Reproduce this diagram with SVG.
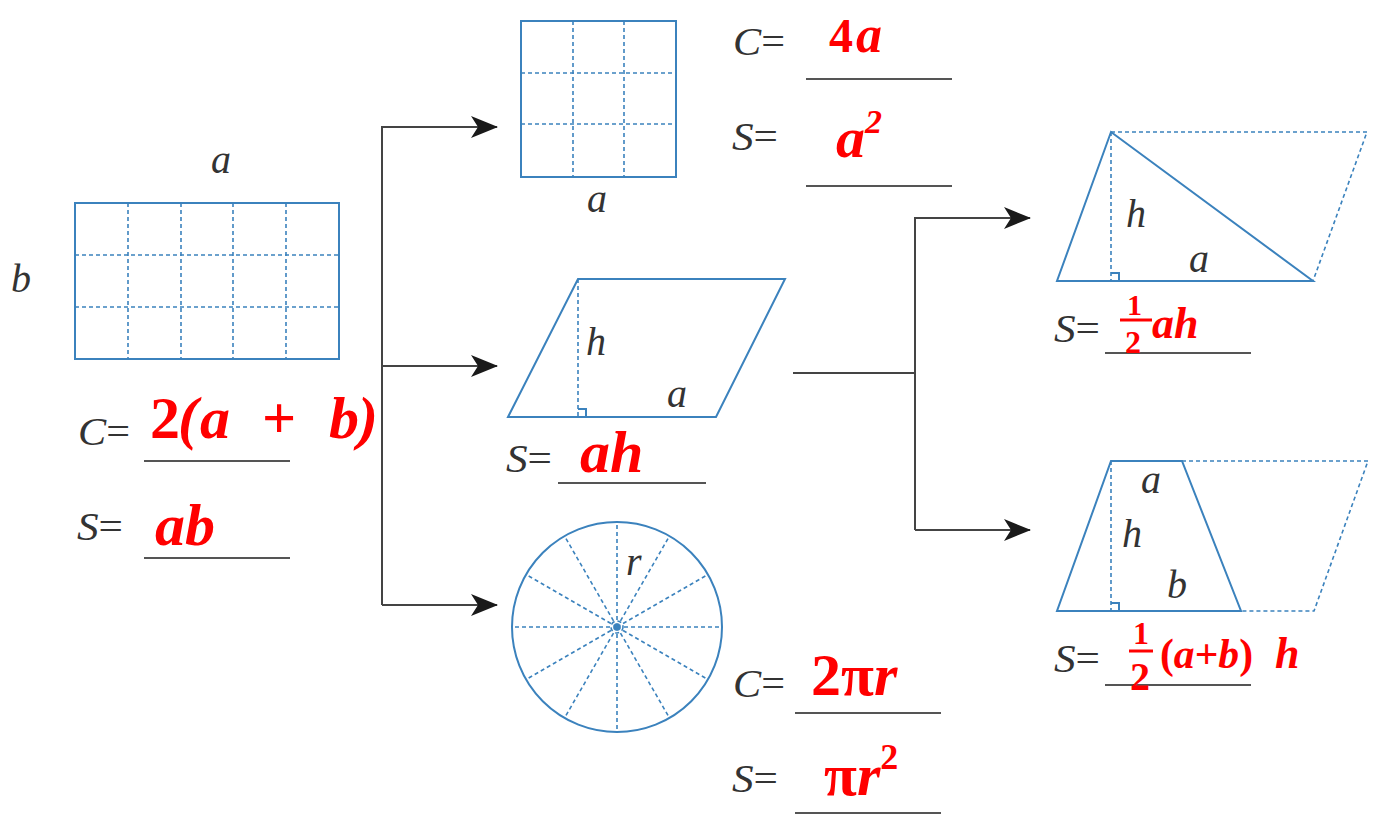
<svg xmlns="http://www.w3.org/2000/svg" width="1374" height="823" viewBox="0 0 1374 823">
<style>
.sh{fill:none;stroke:#3b82bd;stroke-width:2}
.dl{fill:none;stroke:#3b82bd;stroke-width:1.6;stroke-dasharray:4 3}
.lb{font-family:'Liberation Serif','Times New Roman','DejaVu Serif',serif;font-style:italic;font-size:40px;fill:#333}
.eq{font-style:normal}
.ul{stroke:#555;stroke-width:2}
.rd{font-family:'Liberation Serif','Times New Roman','DejaVu Serif',serif;font-weight:bold;fill:#ff0000}
.it{font-style:italic}
.cn{fill:none;stroke:#444;stroke-width:2}
</style>
<defs>
<marker id="arr" markerUnits="userSpaceOnUse" markerWidth="28" markerHeight="22" refX="26" refY="11" orient="auto">
<path d="M0,0 L27,11 L0,22 L7,11 z" fill="#1a1a1a"/>
</marker>
</defs>

<g id="connectors">
<path class="cn" d="M382,605 V127 H497" marker-end="url(#arr)"/>
<path class="cn" d="M382,366 H497" marker-end="url(#arr)"/>
<path class="cn" d="M382,605 H497" marker-end="url(#arr)"/>
<path class="cn" d="M793,373 H915"/>
<path class="cn" d="M915,530 V218 H1030" marker-end="url(#arr)"/>
<path class="cn" d="M915,530 H1030" marker-end="url(#arr)"/>
</g>

<g id="rectangle">
<rect class="sh" x="75" y="203" width="264" height="156"/>
<path class="dl" d="M128,203V359M181,203V359M233,203V359M286,203V359M75,255H339M75,307H339"/>
<text class="lb" x="211" y="173">a</text>
<text class="lb" x="11" y="292">b</text>
<text class="lb" x="78" y="445" textLength="52" lengthAdjust="spacingAndGlyphs">C<tspan class="eq">=</tspan></text>
<text class="lb" x="77" y="540" textLength="46" lengthAdjust="spacingAndGlyphs">S<tspan class="eq">=</tspan></text>
<line class="ul" x1="144" y1="461" x2="290" y2="461"/>
<line class="ul" x1="144" y1="558" x2="290" y2="558"/>
<text class="rd" font-size="60" y="438"><tspan x="150">2</tspan><tspan class="it" x="178">(</tspan><tspan class="it" x="200">a</tspan><tspan x="262">+</tspan><tspan class="it" x="329">b</tspan><tspan class="it" x="358">)</tspan></text>
<text class="rd it" font-size="60" x="155" y="545">ab</text>
</g>

<g id="square">
<rect class="sh" x="521" y="21" width="155" height="156"/>
<path class="dl" d="M573,21V177M624,21V177M521,73H676M521,124H676"/>
<text class="lb" x="587" y="212">a</text>
<text class="lb" x="733" y="55" textLength="52" lengthAdjust="spacingAndGlyphs">C<tspan class="eq">=</tspan></text>
<text class="lb" x="732" y="150" textLength="46" lengthAdjust="spacingAndGlyphs">S<tspan class="eq">=</tspan></text>
<line class="ul" x1="806" y1="79" x2="952" y2="79"/>
<line class="ul" x1="806" y1="186" x2="952" y2="186"/>
<text class="rd" font-size="48" y="52"><tspan x="829">4</tspan><tspan class="it" x="856" font-size="52">a</tspan></text>
<text class="rd it" font-size="58" x="836" y="157">a<tspan font-size="34" dy="-24">2</tspan></text>
</g>

<g id="parallelogram">
<path class="sh" d="M578,279 H785 L716,417 H508 Z"/>
<path class="dl" d="M578,279 V417"/>
<path class="sh" stroke-width="1.5" d="M578,409 H586 V417"/>
<text class="lb" x="586" y="355">h</text>
<text class="lb" x="667" y="407">a</text>
<text class="lb" x="506" y="472" textLength="46" lengthAdjust="spacingAndGlyphs">S<tspan class="eq">=</tspan></text>
<line class="ul" x1="558" y1="483" x2="706" y2="483"/>
<text class="rd it" font-size="60" x="580" y="472">ah</text>
</g>

<g id="circle">
<circle class="sh" cx="617" cy="627" r="105"/>
<g class="dl">
<path d="M617,627 L722,627 M617,627 L708,574.5 M617,627 L669.5,536 M617,627 L617,522 M617,627 L564.5,536 M617,627 L526,574.5 M617,627 L512,627 M617,627 L526,679.5 M617,627 L564.5,718 M617,627 L617,732 M617,627 L669.5,718 M617,627 L708,679.5"/>
<circle cx="617" cy="627" r="6"/>
</g>
<circle cx="617" cy="627" r="1.8" fill="#3b82bd"/>
<text class="lb" x="626" y="575">r</text>
<text class="lb" x="733" y="697" textLength="52" lengthAdjust="spacingAndGlyphs">C<tspan class="eq">=</tspan></text>
<text class="lb" x="732" y="792" textLength="46" lengthAdjust="spacingAndGlyphs">S<tspan class="eq">=</tspan></text>
<line class="ul" x1="795" y1="713" x2="941" y2="713"/>
<line class="ul" x1="795" y1="813" x2="941" y2="813"/>
<text class="rd" font-size="60" y="695"><tspan x="811">2π</tspan><tspan class="it">r</tspan></text>
<text class="rd" font-size="60" y="795"><tspan x="824">π</tspan><tspan class="it">r</tspan><tspan font-size="36" dy="-26">2</tspan></text>
</g>

<g id="triangle">
<path class="dl" d="M1111,132 H1367 L1313,281"/>
<path class="sh" d="M1111,132 L1313,281 H1057 Z"/>
<path class="dl" d="M1111,132 V281"/>
<path class="sh" stroke-width="1.5" d="M1111,273 H1119 V281"/>
<text class="lb" x="1126" y="227">h</text>
<text class="lb" x="1189" y="272">a</text>
<text class="lb" x="1054" y="342" textLength="46" lengthAdjust="spacingAndGlyphs">S<tspan class="eq">=</tspan></text>
<line class="ul" x1="1105" y1="353" x2="1251" y2="353"/>
<text class="rd" font-size="30" x="1127" y="315">1</text>
<line x1="1120" y1="320" x2="1152" y2="320" stroke="#ff0000" stroke-width="3"/>
<text class="rd" font-size="32" x="1125" y="353">2</text>
<text class="rd it" font-size="44" x="1152" y="338">ah</text>
</g>

<g id="trapezoid">
<path class="dl" d="M1182,461 H1368 L1314,611 H1241"/>
<path class="sh" d="M1111,461 H1182 L1241,611 H1057 Z"/>
<path class="dl" d="M1111,461 V611"/>
<path class="sh" stroke-width="1.5" d="M1111,603 H1119 V611"/>
<text class="lb" x="1141" y="493">a</text>
<text class="lb" x="1122" y="547">h</text>
<text class="lb" x="1167" y="598">b</text>
<text class="lb" x="1054" y="672" textLength="46" lengthAdjust="spacingAndGlyphs">S<tspan class="eq">=</tspan></text>
<line class="ul" x1="1105" y1="685" x2="1251" y2="685"/>
<text class="rd" font-size="32" x="1133" y="644">1</text>
<line x1="1129" y1="651" x2="1153" y2="651" stroke="#ff0000" stroke-width="3"/>
<text class="rd" font-size="40" x="1130" y="690">2</text>
<text class="rd" font-size="42" x="1160" y="668" textLength="93" lengthAdjust="spacingAndGlyphs">(<tspan class="it">a</tspan>+<tspan class="it">b</tspan>)</text>
<text class="rd it" font-size="44" x="1275" y="668">h</text>
</g>
</svg>
